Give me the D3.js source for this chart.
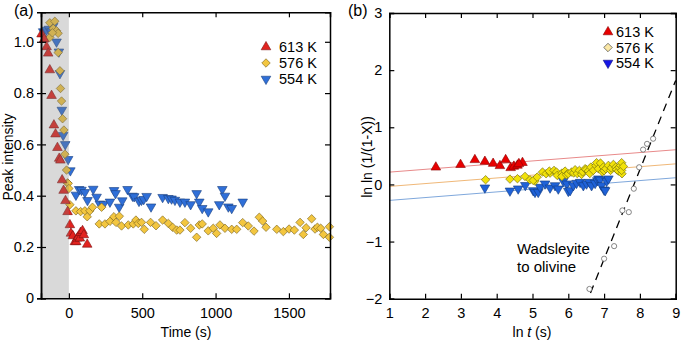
<!DOCTYPE html>
<html>
<head>
<meta charset="utf-8">
<script src="https://cdn.jsdelivr.net/npm/d3@7"></script>
<style>
body { margin: 0; background: #fff; }
text { font-family: "Liberation Sans", Arial, sans-serif; fill: #000; }
</style>
</head>
<body>
<script>
// panel (a): time (s) vs peak intensity
var red613 = [[-186,1.03],[-168,1.01],[-152,0.98],[-141,0.955],[-130,0.89],[-118,0.79],[-102,0.675],[-91,0.64],
  [-78,0.587],[-66,0.545],[-58,0.538],[-46,0.461],[-36,0.42],[-23,0.38],[-9,0.337],
  [7,0.286],[14,0.253],[27,0.243],[41,0.22],[50,0.22],[57,0.234],[65,0.24],[75,0.234],[80,0.256],
  [93,0.263],[102,0.247],[125,0.21]];
var yel576 = [[-130,1.074],[-96,1.08],[-107,1.052],[-84,1.043],[-73,1.033],[-130,1.017],[-112,1.035],[-73,0.958],
  [-61,0.887],[-57,0.818],[-50,0.769],[-43,0.70],[-34,0.656],[-27,0.562],[-16,0.5],[-9,0.45],[-5,0.448],[0,0.428],
  [7,0.365],[48,0.341],[80,0.338],[109,0.341],[125,0.318],[143,0.341],[161,0.355],[223,0.355],[207,0.29],
  [246,0.29],[280,0.30],[307,0.318],[321,0.296],[344,0.32],[359,0.282],[405,0.286],[439,0.29],[457,0.305],
  [473,0.292],[495,0.296],[514,0.269],[557,0.296],[594,0.283],[639,0.305],[678,0.292],[707,0.277],[735,0.266],
  [757,0.266],[791,0.295],[830,0.273],[871,0.238],[889,0.286],[909,0.29],[950,0.263],[984,0.273],[1007,0.253],
  [1030,0.286],[1064,0.273],[1110,0.269],[1144,0.269],[1185,0.295],[1223,0.282],[1262,0.262],[1298,0.316],
  [1321,0.301],[1344,0.277],[1417,0.269],[1462,0.26],[1501,0.27],[1537,0.266],[1576,0.296],[1598,0.249],
  [1617,0.275],[1655,0.31],[1678,0.27],[1694,0.277],[1717,0.273],[1735,0.249],[1776,0.279],[1776,0.238]];
var blu554 = [[-175,1.04],[-152,1.046],[-136,1.05],[-119,1.04],[-107,1.061],[-84,1.0],[-68,0.961],[-61,0.877],
  [-48,0.734],[-39,0.636],[-25,0.6],[-5,0.542],[10,0.498],[48,0.403],[70,0.425],[86,0.422],[109,0.413],[127,0.382],
  [166,0.426],[189,0.395],[211,0.368],[236,0.367],[280,0.376],[308,0.421],[318,0.409],[343,0.356],[364,0.381],
  [400,0.425],[434,0.399],[445,0.397],[478,0.379],[495,0.383],[510,0.386],[530,0.398],[560,0.357],[639,0.394],
  [678,0.39],[700,0.388],[723,0.383],[757,0.376],[791,0.376],[830,0.366],[871,0.409],[889,0.376],[909,0.351],
  [950,0.338],[1025,0.366],[1046,0.425],[1064,0.399],[1087,0.357],[1110,0.351],[1185,0.376]];

// panel (b): ln t vs ln ln(1/(1-X))
var redLn = [[2.3,0.30],[2.99,0.345],[3.39,0.43],[3.67,0.40],[3.9,0.365],[4.09,0.325],[4.25,0.43],[4.39,0.29],
  [4.48,0.315],[4.58,0.333],[4.72,0.38],[4.62,0.36]];
var yelLn = [[3.69,0.082],[4.37,0.093],[4.58,0.1],[4.79,0.14],[4.93,0.08],[5.07,0.058],[5.02,0.07],[5.13,0.128],
  [5.28,0.216],[5.38,0.187],[5.49,0.198],[5.47,0.233],[5.6,0.245],[5.67,0.216],[5.69,0.158],[5.82,0.198],[5.82,0.14],
  [5.91,0.233],[5.95,0.17],[6.0,0.187],[6.09,0.216],[6.15,0.2],[6.19,0.257],[6.25,0.19],[6.31,0.245],[6.37,0.175],
  [6.4,0.22],[6.47,0.275],[6.5,0.26],[6.56,0.233],[6.6,0.19],[6.63,0.303],[6.7,0.245],[6.77,0.333],[6.79,0.38],
  [6.84,0.275],[6.9,0.373],[6.95,0.22],[6.98,0.303],[7.0,0.24],[7.05,0.275],[7.12,0.333],[7.18,0.245],[7.2,0.29],
  [7.26,0.35],[7.33,0.303],[7.35,0.26],[7.4,0.233],[7.42,0.3],[7.46,0.333],[7.49,0.38],[7.5,0.187],[7.49,0.245],
  [7.54,0.315]];
var bluLn = [[3.67,-0.058],[4.37,-0.112],[4.6,-0.075],[4.8,-0.015],[5.02,-0.105],[5.07,-0.134],[5.16,-0.134],
  [5.21,-0.047],[5.35,0.012],[5.49,-0.058],[5.63,-0.018],[5.72,-0.076],[5.86,0.058],[5.96,0.012],[6.0,-0.117],
  [6.05,-0.105],[6.14,-0.018],[6.23,0.023],[6.33,0.04],[6.42,-0.018],[6.51,0.012],[6.59,0.04],[6.65,-0.018],
  [6.75,0.023],[6.81,0.07],[6.84,0.1],[6.89,0.082],[6.93,-0.018],[7.0,-0.093],[7.03,-0.105],[7.07,0.058],[7.12,0.1]];
var wadsLn = [[6.59,-1.83],[7.0,-1.3],[7.28,-1.08],[7.51,-0.455],[7.69,-0.485],[7.83,-0.075],[7.98,0.30],
  [8.09,0.61],[8.2,0.71],[8.37,0.80]];
var fitRed = [[1,0.215],[9,0.607]];
var fitYel = [[1,-0.035],[9,0.36]];
var fitBlu = [[1,-0.28],[9,0.117]];
var fitWads = [[6.62,-1.9],[9,1.82]];

var legendLabels = ["613 K", "576 K", "554 K"];
var ticksA = [0, 500, 1000, 1500];
var ticksAy = [0, 0.2, 0.4, 0.6, 0.8, 1.0];
var ticksB = [1, 2, 3, 4, 5, 6, 7, 8, 9];
var ticksBy = [-2, -1, 0, 1, 2, 3];

var W = 685, H = 343;
var svg = d3.select("body").append("svg").attr("width", W).attr("height", H);

var triUp = d3.symbol().type(d3.symbolTriangle).size(40);
var diam = d3.symbol().type(d3.symbolSquare).size(36);

function drawPts(g, data, x, y, kind, fill, stroke) {
  var gen = kind == "dia" ? diam : triUp;
  g.selectAll(null).data(data).join("path")
    .attr("d", gen)
    .attr("transform", function (d) {
      var r = kind == "dia" ? 45 : (kind == "down" ? 180 : 0);
      return "translate(" + x(d[0]) + "," + y(d[1]) + ") rotate(" + r + ")";
    })
    .attr("fill", fill).attr("stroke", stroke).attr("stroke-width", 0.6);
}

function frame(g, x, y, xt, yt, fmtY, crossLeft) {
  var x0 = x.range()[0], x1 = x.range()[1], y0 = y.range()[0], y1 = y.range()[1];
  g.append("g").attr("transform", "translate(0," + y0 + ")")
    .call(d3.axisBottom(x).tickValues(xt).tickSize(-5).tickPadding(9).tickFormat(d3.format("d")));
  g.append("g").attr("transform", "translate(0," + y1 + ")")
    .call(d3.axisTop(x).tickValues(xt).tickSize(-5).tickFormat(""));
  g.append("g").attr("transform", "translate(" + x0 + ",0)")
    .call(d3.axisLeft(y).tickValues(yt).tickSize(-5).tickPadding(7).tickFormat(fmtY));
  if (crossLeft) {
    g.append("g").attr("transform", "translate(" + x0 + ",0)")
      .call(d3.axisLeft(y).tickValues(yt).tickSize(4).tickFormat(""));
  }
  g.append("g").attr("transform", "translate(" + x1 + ",0)")
    .call(d3.axisRight(y).tickValues(yt).tickSize(-5).tickFormat(""));
  g.selectAll(".domain").attr("stroke-width", 1.5);
  g.selectAll(".tick line").attr("stroke-width", 1.2);
  g.selectAll(".tick text").style("font-size", "14.5px").style("font-family", "Liberation Sans, Arial, sans-serif");
}

// ---------- panel (a)
var xa = d3.scaleLinear().domain([-190, 1780]).range([41, 330]);
var ya = d3.scaleLinear().domain([0, 1.115]).range([298.3, 12.3]);
var ga = svg.append("g");

drawPts(ga, blu554, xa, ya, "down", "#2f6fd8", "#1a3f80");
drawPts(ga, yel576, xa, ya, "dia", "#f3c63f", "#7a6420");
drawPts(ga, red613, xa, ya, "up", "#e2231f", "#7a1010");

// shaded pre-heating interval drawn over the marks
ga.append("rect").attr("x", xa(-190)).attr("y", ya(1.115))
  .attr("width", xa(0) - xa(-190)).attr("height", ya(0) - ya(1.115))
  .attr("fill", "#808080").attr("opacity", 0.3);

frame(ga, xa, ya, ticksA, ticksAy, function (d) { return d == 0 ? "0" : d3.format(".1f")(d); }, true);

var legA = ga.append("g");
var legFillA = ["#e2231f", "#f3c63f", "#2f6fd8"], legStrokeA = ["#7a1010", "#7a6420", "#1a3f80"];
var legKind = ["up", "dia", "down"];
legendLabels.forEach(function (lab, i) {
  var yy = 47 + i * 16;
  legA.append("path").attr("d", legKind[i] == "dia" ? diam : triUp)
    .attr("transform", "translate(266," + yy + ") rotate(" + (legKind[i] == "dia" ? 45 : legKind[i] == "down" ? 180 : 0) + ")")
    .attr("fill", legFillA[i]).attr("stroke", legStrokeA[i]).attr("stroke-width", 0.6);
  legA.append("text").attr("x", 279).attr("y", yy + 5).style("font-size", "14.5px").text(lab);
});

svg.append("text").attr("x", 14).attr("y", 16).style("font-size", "16px").text("(a)");
svg.append("text").attr("transform", "translate(13,157) rotate(-90)").attr("text-anchor", "middle")
  .style("font-size", "14px").text("Peak intensity");
svg.append("text").attr("x", 186).attr("y", 337).attr("text-anchor", "middle")
  .style("font-size", "14px").text("Time (s)");

// ---------- panel (b)
var xb = d3.scaleLinear().domain([1, 9]).range([389.3, 675.7]);
var yb = d3.scaleLinear().domain([-2, 3]).range([298.7, 13]);
var gb = svg.append("g");
var line = d3.line().x(function (d) { return xb(d[0]); }).y(function (d) { return yb(d[1]); });

gb.append("path").datum(fitRed).attr("d", line).attr("stroke", "#e88a8a").attr("stroke-width", 1).attr("fill", "none");
gb.append("path").datum(fitYel).attr("d", line).attr("stroke", "#f0b878").attr("stroke-width", 1).attr("fill", "none");
gb.append("path").datum(fitBlu).attr("d", line).attr("stroke", "#7fa8dc").attr("stroke-width", 1).attr("fill", "none");

drawPts(gb, redLn, xb, yb, "up", "#e80000", "#8a0000");
drawPts(gb, bluLn, xb, yb, "down", "#1f62d8", "#103a80");
drawPts(gb, yelLn, xb, yb, "dia", "#f2e20a", "#6f6a10");

gb.append("path").datum(fitWads).attr("d", line).attr("stroke", "#000").attr("stroke-width", 1.3)
  .attr("stroke-dasharray", "8,6").attr("fill", "none");
gb.selectAll(null).data(wadsLn).join("circle")
  .attr("cx", function (d) { return xb(d[0]); }).attr("cy", function (d) { return yb(d[1]); })
  .attr("r", 2.6).attr("fill", "#fff").attr("stroke", "#555").attr("stroke-width", 0.7);

frame(gb, xb, yb, ticksB, ticksBy, d3.format("d"), false);

var legB = gb.append("g");
var legFillB = ["#e80000", "#fbe8a6", "#1515e6"], legStrokeB = ["#8a0000", "#333", "#101080"];
legendLabels.forEach(function (lab, i) {
  var yy = 32 + i * 15.5;
  legB.append("path").attr("d", legKind[i] == "dia" ? diam : triUp)
    .attr("transform", "translate(608," + yy + ") rotate(" + (legKind[i] == "dia" ? 45 : legKind[i] == "down" ? 180 : 0) + ")")
    .attr("fill", legFillB[i]).attr("stroke", legStrokeB[i]).attr("stroke-width", 0.6);
  legB.append("text").attr("x", 616).attr("y", yy + 5).style("font-size", "14.5px").text(lab);
});

svg.append("text").attr("x", 348).attr("y", 16).style("font-size", "16px").text("(b)");
svg.append("text").attr("transform", "translate(372,157) rotate(-90)").attr("text-anchor", "middle")
  .style("font-size", "14px").text("ln ln (1/(1-X))");
var xl = svg.append("text").attr("x", 532).attr("y", 337).attr("text-anchor", "middle").style("font-size", "14px");
xl.append("tspan").text("ln ");
xl.append("tspan").style("font-style", "italic").text("t");
xl.append("tspan").text(" (s)");
var wt = svg.append("text").style("font-size", "15px");
wt.append("tspan").attr("x", 517).attr("y", 254).text("Wadsleyite");
wt.append("tspan").attr("x", 517).attr("y", 272).text("to olivine");
</script>
</body>
</html>
